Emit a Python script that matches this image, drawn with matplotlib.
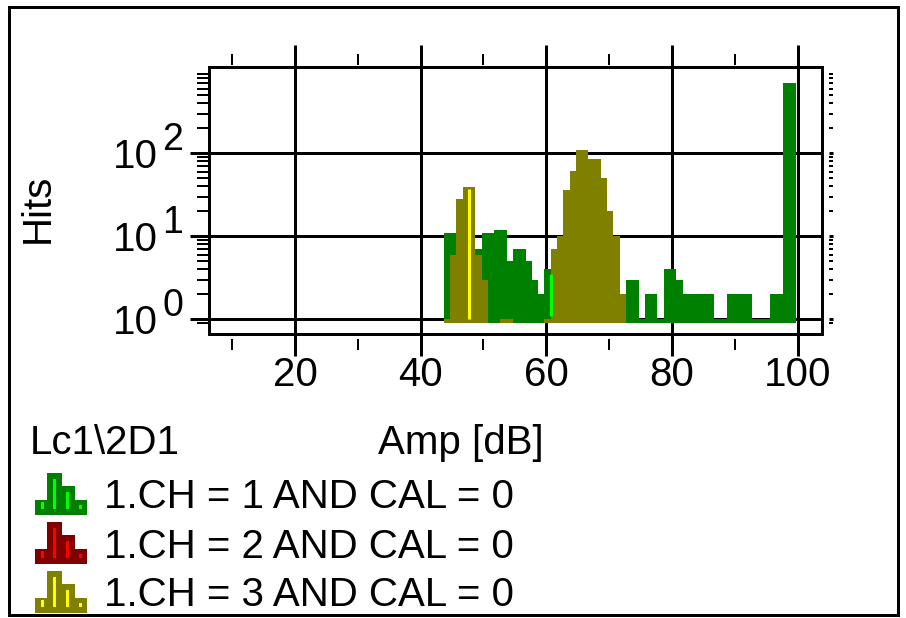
import numpy as np
import matplotlib
matplotlib.use("Agg")
import matplotlib.pyplot as plt
import matplotlib.transforms as mtransforms
from matplotlib.patches import Rectangle
from matplotlib.ticker import NullFormatter, FixedLocator

plt.rcParams['font.family'] = ['Liberation Sans', 'DejaVu Sans']

# amplitude bins [dB], 1 dB wide
amp = list(range(44, 100))

# hits per bin, channel 1 (green)
ch1_hits = [11, 11, 0, 0, 0, 7, 11, 11, 12, 12,
            5, 7, 7, 5, 3, 2, 4, 0, 0, 0,
            0, 0, 0, 0, 0, 0, 0, 0, 0, 3,
            3, 1, 2, 2, 1, 4, 4, 3, 2, 2,
            2, 2, 2, 1, 1, 2, 2, 2, 2, 1,
            1, 1, 2, 2, 700, 700]

# hits per bin, channel 3 (olive)
ch3_hits = [1, 6, 28, 39, 39, 6, 3, 0, 0, 1,
            1, 0, 0, 0, 0, 0, 1, 7, 10, 36,
            61, 110, 110, 85, 85, 50, 20, 10, 2, 0,
            0, 0, 0, 0, 0, 0, 0, 0, 0, 0,
            0, 0, 0, 0, 0, 0, 0, 0, 0, 0,
            0, 0, 0, 0, 0, 0]

# highlight strokes (amp, hits)
ch3_mark = (47.7, 37)
ch1_mark = (60.75, 3.5)

x_ticks = [20, 40, 60, 80, 100]
x_minor = [10, 30, 50, 70, 90]
y_decades = [0, 1, 2]
y_minor = [0.9] + [k * 10 ** d for d in y_decades for k in range(2, 10)]

legend_rows = [("1.CH = 1 AND CAL = 0", "#008000", "#00ff00"),
               ("1.CH = 2 AND CAL = 0", "#800000", "#ff0000"),
               ("1.CH = 3 AND CAL = 0", "#808000", "#ffff00")]

W, H = 906, 618
PX = 0.72  # points per pixel at dpi 100
FS = 29


def fx(x):
    return x / W


def fy(y):
    return 1 - y / H


fig = plt.figure(figsize=(W / 100, H / 100), dpi=100)
ax = fig.add_axes([fx(209), fy(334), (822 - 209) / W, (334 - 67) / H])
ax.set_yscale('log')
ax.set_xlim(6.3, 103.9)
ax.set_ylim(0.665, 1096)
ax.set_axisbelow(True)

xs = np.array(amp) - 0.3
c1 = np.array(ch1_hits, float)
c3 = np.array(ch3_hits, float)
m1 = c1 > 0
m3 = c3 > 0
ax.bar(xs[m1], c1[m1] - 0.9, width=1.0, bottom=0.9, align='edge',
       color='#008000', lw=0, zorder=2)
ax.bar(xs[m3], c3[m3] - 0.9, width=1.0, bottom=0.9, align='edge',
       color='#808000', lw=0, zorder=3)
ax.vlines(ch3_mark[0], 1.02, ch3_mark[1], color='#ffff00', lw=3 * PX, zorder=4)
ax.vlines(ch1_mark[0], 1.1, ch1_mark[1], color='#00ff00', lw=3 * PX, zorder=4)

ax.grid(True, which='major', color='black', lw=3 * PX)
for s in ax.spines.values():
    s.set_linewidth(3 * PX)

ax.set_xticks(x_ticks)
ax.tick_params(axis='x', which='major', direction='out', length=22 * PX,
               width=3 * PX, top=True, bottom=True, labelsize=FS, pad=0)
ax.tick_params(axis='x', which='minor', top=False, bottom=False)
ax.set_yticks([10 ** d for d in y_decades])
ax.yaxis.set_minor_locator(FixedLocator(y_minor))
ax.yaxis.set_major_formatter(NullFormatter())
ax.yaxis.set_minor_formatter(NullFormatter())
ax.tick_params(axis='y', which='major', direction='out', length=19 * PX,
               width=3 * PX, left=True, right=False)
ax.tick_params(axis='y', which='minor', direction='out', length=12 * PX,
               width=2 * PX, left=True, right=False)

# detached tick rows
secb = ax.secondary_xaxis(-5 / 267)
secb.set_xticks(x_minor)
secb.tick_params(direction='out', length=11 * PX, width=2 * PX, labelbottom=False)
sect = ax.secondary_xaxis(1 + 2 / 267)
sect.set_xticks(x_minor)
sect.tick_params(direction='out', length=11 * PX, width=2 * PX, labeltop=False)
for sec in (secb, sect):
    for s in sec.spines.values():
        s.set_visible(False)

twin = ax.twinx()
twin.set_yscale('log')
twin.set_ylim(ax.get_ylim())
for s in twin.spines.values():
    s.set_visible(False)
twin.spines['right'].set_position(('outward', 5))
twin.set_yticks([10 ** d for d in y_decades])
twin.yaxis.set_minor_locator(FixedLocator(y_minor))
twin.yaxis.set_major_formatter(NullFormatter())
twin.yaxis.set_minor_formatter(NullFormatter())
twin.tick_params(which='major', direction='out', length=4 * PX, width=3 * PX)
twin.tick_params(which='minor', direction='out', length=4 * PX, width=2 * PX)

# y tick labels 10^n
trans = mtransforms.blended_transform_factory(ax.transAxes, ax.transData)
for d in y_decades:
    ax.annotate("10", xy=(0, 10 ** d), xycoords=trans, xytext=(-51, -15),
                textcoords='offset pixels', ha='right', va='baseline', fontsize=FS,
                annotation_clip=False)
    ax.annotate(str(d), xy=(0, 10 ** d), xycoords=trans, xytext=(-47, 3),
                textcoords='offset pixels', ha='left', va='baseline', fontsize=FS - 2,
                annotation_clip=False)

fig.text(fx(38), fy(208), "Hits", rotation=90, ha='center', va='center', fontsize=FS)
fig.text(fx(30), fy(454), "Lc1\\2D1", ha='left', va='baseline', fontsize=FS)
fig.text(fx(378), fy(454), "Amp [dB]", ha='left', va='baseline', fontsize=FS)

# legend with little histogram icons
cols = [(0, 12, 15), (12, 15, 42), (27, 13, 29), (40, 12, 15)]
stripes = [(6, 13), (18, 36), (31, 23), (44, 10)]
for i, (label, dark, light) in enumerate(legend_rows):
    yc = 494 + 49 * i
    bot = yc + 21
    for cx, cw, ch in cols:
        fig.add_artist(Rectangle((fx(35 + cx), fy(bot)), cw / W, ch / H,
                                 transform=fig.transFigure, color=dark, lw=0))
    for sx, st in stripes:
        fig.add_artist(Rectangle((fx(35 + sx), fy(bot - 6)), 3 / W, (st - 6) / H,
                                 transform=fig.transFigure, color=light, lw=0))
    fig.text(fx(104), fy(yc + 14.5), label, ha='left', va='baseline', fontsize=FS)

fig.add_artist(Rectangle((fx(9), fy(615)), (898 - 9) / W, (615 - 7) / H,
                         transform=fig.transFigure, fill=False, lw=3 * PX,
                         edgecolor='black'))

fig.savefig("out.png", dpi=100, facecolor='white')
